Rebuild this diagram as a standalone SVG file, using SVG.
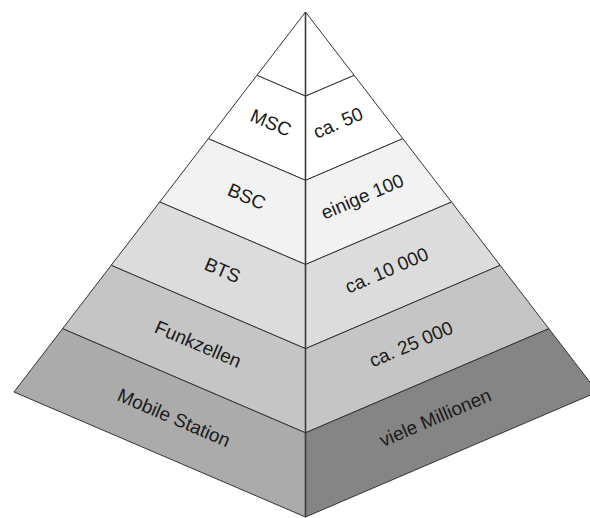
<svg xmlns="http://www.w3.org/2000/svg" width="590" height="518" viewBox="0 0 590 518">
  <style>
    .face { stroke: #333; stroke-width: 1; stroke-linejoin: round; }
    .lvl0 { fill: #ffffff; }
    .lvl1 { fill: #ffffff; }
    .lvl2 { fill: #f2f2f2; }
    .lvl3 { fill: #dcdcdc; }
    .lvl4 { fill: #c5c5c5; }
    .lvl5l { fill: #ababab; }
    .lvl5r { fill: #858585; }
    .label { font-family: "Liberation Sans", Arial, sans-serif; font-size: 19px; fill: #1a1a1a; text-anchor: middle; }
    .ridge { stroke: #3a3a3a; stroke-width: 1.6; fill: none; }
  </style>

  <rect width="590" height="518" fill="#ffffff"/>

  <!-- apex -->
  <g id="apex">
    <polygon class="face lvl0" points="305.5,12 305.5,96.17 256.92,75.33"/>
    <polygon class="face lvl0" points="305.5,12 305.5,96.17 354.17,75.33"/>
  </g>

  <!-- MSC level -->
  <g id="msc">
    <polygon class="face lvl1" points="256.92,75.33 305.5,96.17 305.5,180.33 208.33,138.67"/>
    <polygon class="face lvl1" points="354.17,75.33 305.5,96.17 305.5,180.33 402.83,138.67"/>
    <text class="label" x="271" y="122.6" dy="0.35em" transform="rotate(23.2 271 122.6)">MSC</text>
    <text class="label" x="338" y="122.6" dy="0.35em" transform="rotate(-23.2 338 122.6)">ca. 50</text>
  </g>

  <!-- BSC level -->
  <g id="bsc">
    <polygon class="face lvl2" points="208.33,138.67 305.5,180.33 305.5,264.5 159.75,202"/>
    <polygon class="face lvl2" points="402.83,138.67 305.5,180.33 305.5,264.5 451.5,202"/>
    <text class="label" x="246.8" y="196.4" dy="0.35em" transform="rotate(23.2 246.8 196.4)">BSC</text>
    <text class="label" x="362.3" y="196.4" dy="0.35em" transform="rotate(-23.2 362.3 196.4)">einige 100</text>
  </g>

  <!-- BTS level -->
  <g id="bts">
    <polygon class="face lvl3" points="159.75,202 305.5,264.5 305.5,348.67 111.17,265.33"/>
    <polygon class="face lvl3" points="451.5,202 305.5,264.5 305.5,348.67 500.17,265.33"/>
    <text class="label" x="222.5" y="270.1" dy="0.35em" transform="rotate(23.2 222.5 270.1)">BTS</text>
    <text class="label" x="386.6" y="270.1" dy="0.35em" transform="rotate(-23.2 386.6 270.1)">ca. 10 000</text>
  </g>

  <!-- Funkzellen level -->
  <g id="funkzellen">
    <polygon class="face lvl4" points="111.17,265.33 305.5,348.67 305.5,432.83 62.58,328.67"/>
    <polygon class="face lvl4" points="500.17,265.33 305.5,348.67 305.5,432.83 548.83,328.67"/>
    <text class="label" x="198.2" y="343.9" dy="0.35em" transform="rotate(23.2 198.2 343.9)">Funkzellen</text>
    <text class="label" x="411" y="343.9" dy="0.35em" transform="rotate(-23.2 411 343.9)">ca. 25 000</text>
  </g>

  <!-- Mobile Station level -->
  <g id="mobile-station">
    <polygon class="face lvl5l" points="62.58,328.67 305.5,432.83 305.5,517 14,392"/>
    <polygon class="face lvl5r" points="548.83,328.67 305.5,432.83 305.5,517 597.5,392"/>
    <text class="label" x="173.9" y="417.6" dy="0.35em" transform="rotate(23.2 173.9 417.6)">Mobile Station</text>
    <text class="label" x="435.3" y="417.6" dy="0.35em" transform="rotate(-23.2 435.3 417.6)">viele Millionen</text>
  </g>

  <!-- front ridge -->
  <g id="connectors">
    <line class="ridge" x1="305.5" y1="12" x2="305.5" y2="517"/>
  </g>
</svg>
